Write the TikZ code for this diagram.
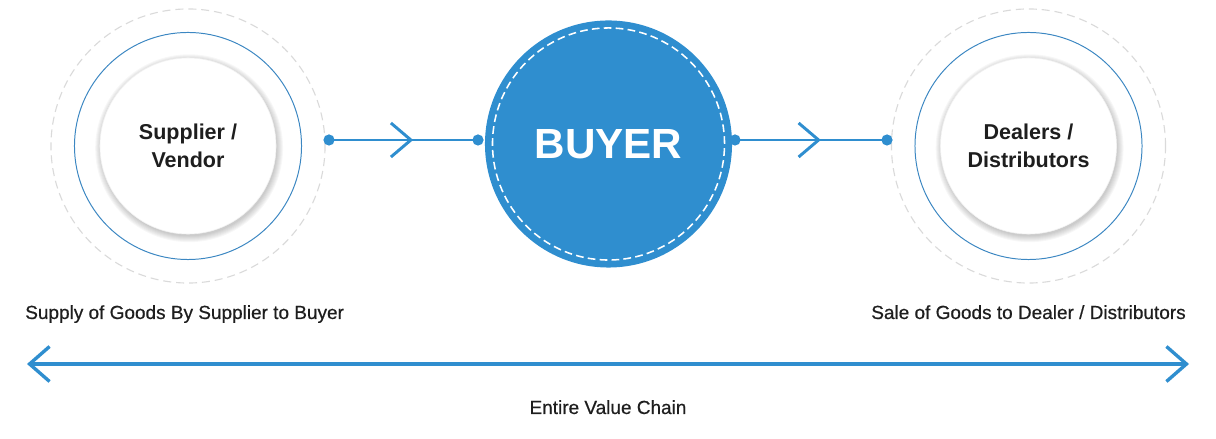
\documentclass[tikz,border=0pt]{standalone}
\usepackage{fontspec}
\setmainfont{Liberation Sans}
\newfontfamily\captionfont{Liberation Sans}[FakeBold=0.6]
\usetikzlibrary{arrows.meta,decorations.markings}

\definecolor{chainblue}{HTML}{2F8ECF}
\definecolor{ringblue}{HTML}{3C87C2}
\definecolor{ringgray}{HTML}{DADADA}
\definecolor{labeltext}{HTML}{1E1E1E}

\tikzset{
	party/.style={circle, fill=white, draw=black!5, minimum size=4.4cm, inner sep=0pt, align=center,
		font=\fontsize{15.3}{20}\selectfont\bfseries, text=labeltext},
	buyer/.style={circle, fill=chainblue, minimum size=6.175cm, inner sep=0pt, text=white,
		font=\fontsize{30}{30}\selectfont\bfseries},
	halo/.style={ringgray, line width=0.8pt, dash pattern=on 5.7pt off 3.5pt},
	ring/.style={ringblue, line width=0.7pt},
	stitch/.style={white, line width=1.1pt, dash pattern=on 5.5pt off 3pt},
	dot/.style={circle, fill=chainblue, inner sep=0pt, minimum size=0.28cm},
	link/.style={chainblue, line width=2.1pt, postaction={decorate},
		decoration={markings, mark=at position 0.565 with {\arrow{Straight Barb[length=0.5cm, width=0.85cm]}}}},
	caption/.style={inner sep=0pt, font=\captionfont\fontsize{13.5}{16}\selectfont, text=labeltext},
}

\begin{document}
\begin{tikzpicture}[x=0.025cm, y=0.025cm]
				\useasboundingbox (0,0) rectangle (1216,439);
				
				% the three parties of the chain
				\coordinate (supplierpos) at (188,293);
				\coordinate (dealerpos) at (1028.5,293);
				% soft shadow under the white discs
				\foreach \p in {supplierpos,dealerpos}
					\foreach \s in {0,...,6}
						\fill[black, opacity=0.03] ([xshift=0.8pt, yshift=-1.6pt]\p) circle ({2.2cm+\s*0.7pt});
				
				\node[party] (supplier) at (supplierpos) {Supplier /\\Vendor};
				\draw[ring] (supplier.center) circle (2.8375cm);
				\draw[halo] (supplier.center) circle (3.425cm);
				
				\node[buyer] (buyer) at (608.5,295) {BUYER};
				\draw[stitch] (buyer.center) circle (2.9cm);
				
				\node[party] (dealer) at (dealerpos) {Dealers /\\Distributors};
				\draw[ring] (dealer.center) circle (2.8375cm);
				\draw[halo] (dealer.center) circle (3.425cm);
				
				% connectors between them
				\node[dot] (supout) at (329,299) {};
				\node[dot] (buyin) at (478,299) {};
				\node[dot] (buyout) at (735,299) {};
				\node[dot] (dealin) at (887,299) {};
				\draw[link] (supout.center) -- (buyin.center);
				\draw[link] (buyout.center) -- (dealin.center);
				
				% value chain
				\node[caption, anchor=base west] (supply) at (25,120) {Supply of Goods By Supplier to Buyer};
				\node[caption, anchor=base east] (sale) at (1186,120) {Sale of Goods to Dealer / Distributors};
				\coordinate (chainstart) at (27,75);
				\coordinate (chainend) at (1189,75);
				\draw[chainblue, line width=2.4pt, {Straight Barb[length=0.5cm, width=0.875cm]}-{Straight Barb[length=0.5cm, width=0.875cm]}] (chainstart) -- (chainend);
				\node[caption, anchor=base] (chain) at (608,25) {Entire Value Chain};
				
\end{tikzpicture}
\end{document}
